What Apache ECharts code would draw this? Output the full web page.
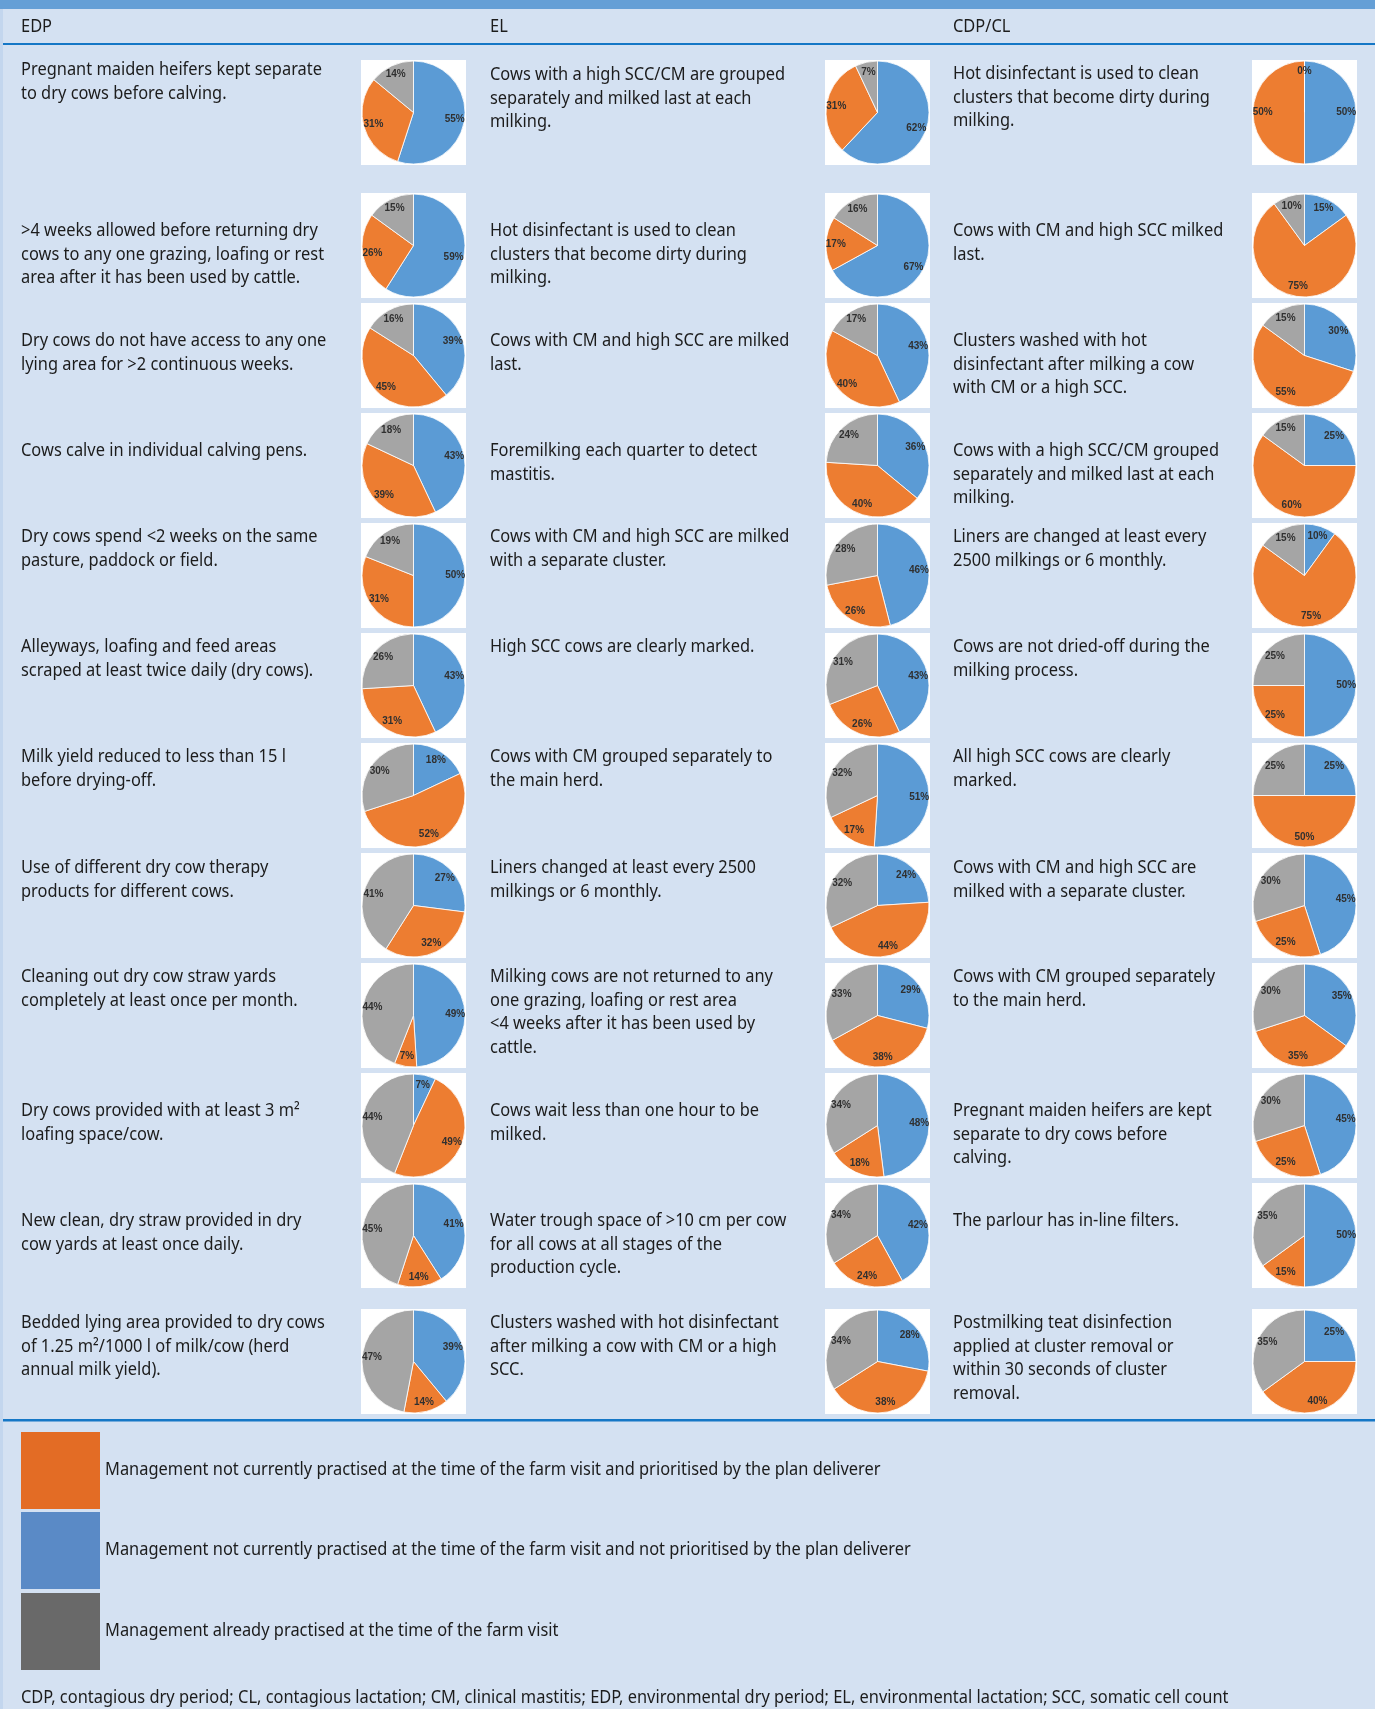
<!DOCTYPE html>
<html><head><meta charset="utf-8">
<script src="https://cdn.jsdelivr.net/npm/echarts@6/dist/echarts.min.js"></script>
<style>html,body{margin:0;padding:0;background:#d4e1f2}#c{width:1375px;height:1709px}</style>
</head><body><div id="c"></div>
<script>
// ---------- DATA ----------
const groups = ['EDP', 'EL', 'CDP/CL'];
const sliceNames = ['Not practised, not prioritised', 'Not practised, prioritised', 'Already practised'];

const edpItems = [
  'Pregnant maiden heifers kept separate\nto dry cows before calving.',
  '>4 weeks allowed before returning dry\ncows to any one grazing, loafing or rest\narea after it has been used by cattle.',
  'Dry cows do not have access to any one\nlying area for >2 continuous weeks.',
  'Cows calve in individual calving pens.',
  'Dry cows spend <2 weeks on the same\npasture, paddock or field.',
  'Alleyways, loafing and feed areas\nscraped at least twice daily (dry cows).',
  'Milk yield reduced to less than 15 l\nbefore drying-off.',
  'Use of different dry cow therapy\nproducts for different cows.',
  'Cleaning out dry cow straw yards\ncompletely at least once per month.',
  'Dry cows provided with at least 3 m\u00b2\nloafing space/cow.',
  'New clean, dry straw provided in dry\ncow yards at least once daily.',
  'Bedded lying area provided to dry cows\nof 1.25 m\u00b2/1000 l of milk/cow (herd\nannual milk yield).'
];
const edpBlue   = [55, 59, 39, 43, 50, 43, 18, 27, 49, 7, 41, 39];
const edpOrange = [31, 26, 45, 39, 31, 31, 52, 32, 7, 49, 14, 14];
const edpGray   = [14, 15, 16, 18, 19, 26, 30, 41, 44, 44, 45, 47];

const elItems = [
  'Cows with a high SCC/CM are grouped\nseparately and milked last at each\nmilking.',
  'Hot disinfectant is used to clean\nclusters that become dirty during\nmilking.',
  'Cows with CM and high SCC are milked\nlast.',
  'Foremilking each quarter to detect\nmastitis.',
  'Cows with CM and high SCC are milked\nwith a separate cluster.',
  'High SCC cows are clearly marked.',
  'Cows with CM grouped separately to\nthe main herd.',
  'Liners changed at least every 2500\nmilkings or 6 monthly.',
  'Milking cows are not returned to any\none grazing, loafing or rest area\n<4 weeks after it has been used by\ncattle.',
  'Cows wait less than one hour to be\nmilked.',
  'Water trough space of >10 cm per cow\nfor all cows at all stages of the\nproduction cycle.',
  'Clusters washed with hot disinfectant\nafter milking a cow with CM or a high\nSCC.'
];
const elBlue   = [62, 67, 43, 36, 46, 43, 51, 24, 29, 48, 42, 28];
const elOrange = [31, 17, 40, 40, 26, 26, 17, 44, 38, 18, 24, 38];
const elGray   = [7, 16, 17, 24, 28, 31, 32, 32, 33, 34, 34, 34];

const cdpItems = [
  'Hot disinfectant is used to clean\nclusters that become dirty during\nmilking.',
  'Cows with CM and high SCC milked\nlast.',
  'Clusters washed with hot\ndisinfectant after milking a cow\nwith CM or a high SCC.',
  'Cows with a high SCC/CM grouped\nseparately and milked last at each\nmilking.',
  'Liners are changed at least every\n2500 milkings or 6 monthly.',
  'Cows are not dried-off during the\nmilking process.',
  'All high SCC cows are clearly\nmarked.',
  'Cows with CM and high SCC are\nmilked with a separate cluster.',
  'Cows with CM grouped separately\nto the main herd.',
  'Pregnant maiden heifers are kept\nseparate to dry cows before\ncalving.',
  'The parlour has in-line filters.',
  'Postmilking teat disinfection\napplied at cluster removal or\nwithin 30 seconds of cluster\nremoval.'
];
const cdpBlue   = [50, 15, 30, 25, 10, 50, 25, 45, 35, 45, 50, 25];
const cdpOrange = [50, 75, 55, 60, 75, 25, 50, 25, 35, 25, 15, 40];
const cdpGray   = [0, 10, 15, 15, 15, 25, 25, 30, 30, 30, 35, 35];

const legendLabels = [
  'Management not currently practised at the time of the farm visit and prioritised by the plan deliverer',
  'Management not currently practised at the time of the farm visit and not prioritised by the plan deliverer',
  'Management already practised at the time of the farm visit'
];
const footnote = 'CDP, contagious dry period; CL, contagious lactation; CM, clinical mastitis; EDP, environmental dry period; EL, environmental lactation; SCC, somatic cell count';

// ---------- LAYOUT / STYLE ----------
const pieColors = ['#5b9bd5', '#ed7d31', '#a5a5a5'];
const legendColors = ['#e36c25', '#5a8ac6', '#696969'];
const FONT = '"Noto Sans", "Open Sans", sans-serif';
const FS = 17.5, LH = 23.7;
const meas = document.createElement('canvas').getContext('2d');
meas.font = FS + 'px "Noto Sans"';
const SX = 301 / meas.measureText('Pregnant maiden heifers kept separate').width;

const colTextX = [21, 490, 953];
const colPieX = [413.5, 877.5, 1304.5];
const rowTops = [60, 193, 303, 413, 523, 633, 743, 853, 963, 1073, 1183, 1309];
const textY = [
  [70, 231, 341, 451, 537, 647, 757, 868, 977, 1111, 1221, 1323],
  [75, 231, 341, 451, 537, 647, 757, 868, 977, 1111, 1221, 1323],
  [74, 231, 341, 451, 537, 647, 757, 868, 977, 1111, 1221, 1323]
];
const cols = [
  {items: edpItems, blue: edpBlue, orange: edpOrange, gray: edpGray},
  {items: elItems, blue: elBlue, orange: elOrange, gray: elGray},
  {items: cdpItems, blue: cdpBlue, orange: cdpOrange, gray: cdpGray}
];

function txt(str, x, yCenter, extra) {
  return Object.assign({
    type: 'text', x: x, y: yCenter - LH / 2, scaleX: SX, silent: true,
    style: {text: str, fontSize: FS, fontFamily: FONT, fill: '#1c1c1c', lineHeight: LH, verticalAlign: 'top', align: 'left'}
  }, extra || {});
}

const graphics = [
  {type: 'rect', shape: {x: 0, y: 0, width: 1375, height: 9}, style: {fill: '#659fd6'}, silent: true},
  {type: 'rect', shape: {x: 0, y: 9, width: 3, height: 1700}, style: {fill: '#c3d6ee'}, silent: true},
  {type: 'rect', shape: {x: 3, y: 43, width: 1372, height: 2}, style: {fill: '#1577c6'}, silent: true},
  {type: 'rect', shape: {x: 3, y: 1419, width: 1372, height: 2.5}, style: {fill: '#1577c6'}, silent: true}
];
groups.forEach((g, c) => graphics.push(txt(g, colTextX[c], 27)));

const series = [];
cols.forEach((col, c) => {
  col.items.forEach((item, r) => {
    graphics.push(txt(item, colTextX[c], textY[c][r]));
    graphics.push({type: 'rect', silent: true, z: -1,
      shape: {x: colPieX[c] - 52.5, y: rowTops[r], width: 105, height: 105}, style: {fill: '#ffffff'}});
    const data = [
      {name: sliceNames[0], value: col.blue[r]},
      {name: sliceNames[1], value: col.orange[r]},
      {name: sliceNames[2], value: col.gray[r]}
    ];
    const center = [colPieX[c], rowTops[r] + 52.5];
    series.push({
      type: 'pie', center: center, radius: [0, 51.5], startAngle: 90, clockwise: true,
      silent: true, animation: false, z: 2,
      label: {show: false}, labelLine: {show: false},
      itemStyle: {borderColor: '#ffffff', borderWidth: 0.8},
      data: data
    });
    series.push({
      type: 'pie', center: center, radius: [26, 51.5], startAngle: 90, clockwise: true,
      silent: true, animation: false, z: 3,
      itemStyle: {color: 'rgba(0,0,0,0)', borderWidth: 0},
      labelLine: {show: false},
      label: {show: true, position: 'inside', formatter: '{c}%', fontSize: 10, fontWeight: 'bold',
        fontFamily: '"Liberation Sans", Arial, sans-serif', color: '#303030', textBorderWidth: 0},
      data: data
    });
  });
});

const legendTops = [1432, 1512, 1593];
legendLabels.forEach((l, i) => {
  graphics.push({type: 'rect', silent: true, shape: {x: 21, y: legendTops[i], width: 79, height: 77}, style: {fill: legendColors[i]}});
  graphics.push(txt(l, 105, legendTops[i] + 38));
});
graphics.push(txt(footnote, 21, 1698));

const chart = echarts.init(document.getElementById('c'), null, {renderer: 'canvas'});
chart.setOption({
  backgroundColor: '#d4e1f2',
  animation: false,
  color: pieColors,
  graphic: {elements: graphics},
  series: series
});
</script></body></html>
